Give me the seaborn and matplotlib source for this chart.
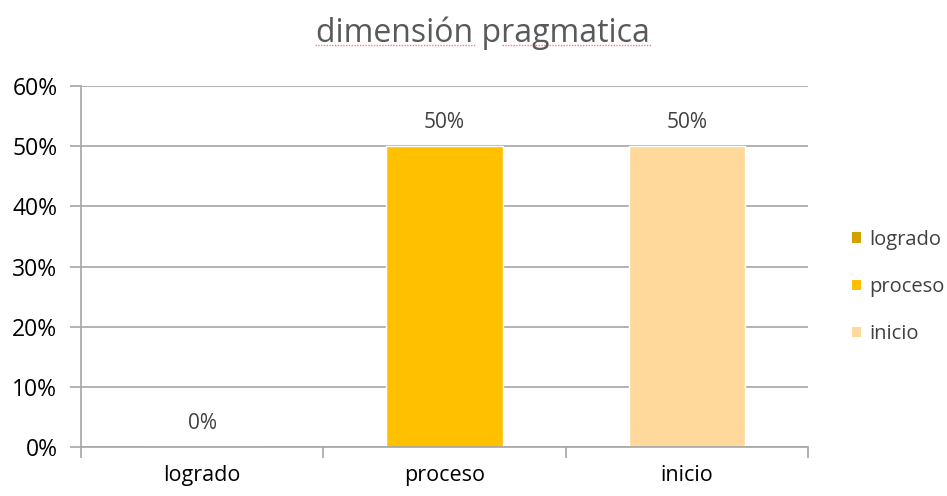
import matplotlib
matplotlib.use("Agg")
import matplotlib.pyplot as plt
import seaborn as sns
import pandas as pd
from matplotlib.ticker import PercentFormatter, FixedLocator
from matplotlib.patches import Patch
from matplotlib.lines import Line2D

categories = ["logrado", "proceso", "inicio"]
values = [0.0, 0.5, 0.5]
labels = ["0%", "50%", "50%"]
colors = ["#D4A000", "#FFC000", "#FFD89B"]
title = "dimensión pragmatica"

sns.set_theme(style="white")
plt.rcParams['font.family'] = ['Open Sans', 'DejaVu Sans']

df = pd.DataFrame({"cat": categories, "val": values})

W, H = 947, 496
fig = plt.figure(figsize=(W / 100, H / 100), dpi=100)
ax = fig.add_axes([81/W, 49/H, (808-81)/W, (447-86)/H])

sns.barplot(data=df, x="cat", y="val", hue="cat", palette=colors, dodge=False,
            width=0.48, legend=False, ax=ax, saturation=1)

ax.set_ylim(0, 0.6)
ax.set_xlim(-0.5, 2.5)
ax.yaxis.set_major_locator(FixedLocator([0, 0.1, 0.2, 0.3, 0.4, 0.5, 0.6]))
ax.yaxis.set_major_formatter(PercentFormatter(1.0, decimals=0))
ax.grid(axis="y", color="#A6A6A6", linewidth=1.2)
ax.set_axisbelow(True)
ax.set_xlabel("")
ax.set_ylabel("")
for s in ["top", "right"]:
    ax.spines[s].set_visible(False)
for s in ["left", "bottom"]:
    ax.spines[s].set_color("#A6A6A6")
    ax.spines[s].set_linewidth(1.2)

# x ticks at category boundaries
ax.set_xticks([-0.5, 0.5, 1.5, 2.5], minor=False)
ax.set_xticklabels([])
ax.set_xticks([0, 1, 2], minor=True)
ax.set_xticklabels(categories, minor=True, fontsize=15.5, color="#000000")
ax.tick_params(axis="x", which="major", length=8, width=1.2, color="#A6A6A6", bottom=True)
ax.tick_params(axis="x", which="minor", length=0, pad=13)
ax.tick_params(axis="y", length=8, width=1.2, color="#A6A6A6", left=True, labelsize=16.5,
               labelcolor="#000000", pad=9)

for i, (v, lab) in enumerate(zip(values, labels)):
    ax.annotate(lab, (i, v), xytext=(0, 17), textcoords="offset points",
                ha="center", va="center", fontsize=15, color="#404040")

handles = [Patch(facecolor=c, edgecolor="none") for c in colors]
leg = fig.legend(handles, categories, loc="center left", bbox_to_anchor=(846/W, (H-287)/H),
                 frameon=False, fontsize=14.5, handlelength=0.42, handleheight=0.42,
                 handletextpad=0.45, labelspacing=1.35, labelcolor="#404040",
                 borderaxespad=0, borderpad=0.3)

fig.text(483/W, (H-33)/H, title, ha="center", va="center", fontsize=23, color="#595959")

# spell-check style dotted underline below the title words
for x0, x1 in [(315, 475), (502, 652)]:
    fig.add_artist(Line2D([x0/W, x1/W], [(H-45)/H, (H-45)/H], transform=fig.transFigure,
                          color="#F08080", linewidth=1.0, linestyle=(0, (1, 1))))

fig.savefig("out.png", dpi=100)
